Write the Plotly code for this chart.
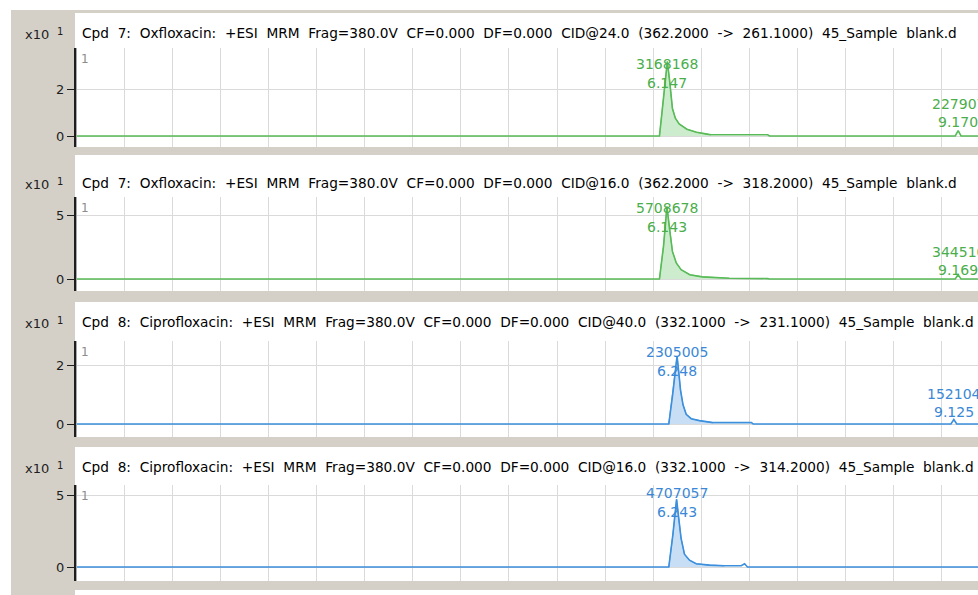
import plotly.graph_objects as go

# ---------------- data ----------------
headers = [
    "Cpd 7: Oxfloxacin: +ESI MRM Frag=380.0V CF=0.000 DF=0.000 CID@24.0 (362.2000 -> 261.1000) 45_Sample blank.d",
    "Cpd 7: Oxfloxacin: +ESI MRM Frag=380.0V CF=0.000 DF=0.000 CID@16.0 (362.2000 -> 318.2000) 45_Sample blank.d",
    "Cpd 8: Ciprofloxacin: +ESI MRM Frag=380.0V CF=0.000 DF=0.000 CID@40.0 (332.1000 -> 231.1000) 45_Sample blank.d",
    "Cpd 8: Ciprofloxacin: +ESI MRM Frag=380.0V CF=0.000 DF=0.000 CID@16.0 (332.1000 -> 314.2000) 45_Sample blank.d",
]

# retention time (min) / intensity (x10^6 counts) for each MRM transition
rt_1 = [0.00, 6.065, 6.09, 6.12, 6.147, 6.17, 6.20, 6.23, 6.27, 6.35, 6.45, 6.56, 6.60, 7.19, 7.21,
        9.14, 9.170, 9.20, 9.40]
int_1 = [0.00, 0.00, 0.95, 2.15, 3.168168, 2.38, 1.17, 0.76, 0.51, 0.29, 0.16, 0.08, 0.05, 0.05, 0.00,
         0.00, 0.227907, 0.00, 0.00]

rt_2 = [0.00, 6.065, 6.107, 6.143, 6.17, 6.20, 6.24, 6.29, 6.38, 6.51, 6.79, 6.85, 6.93, 6.97, 7.07,
        7.10, 7.19, 7.21, 9.14, 9.169, 9.20, 9.40]
int_2 = [0.00, 0.00, 2.57, 5.708678, 3.94, 2.17, 1.26, 0.74, 0.34, 0.17, 0.06, 0.06, 0.08, 0.04, 0.06,
         0.03, 0.03, 0.00, 0.00, 0.344510, 0.00, 0.00]

rt_3 = [0.00, 6.162, 6.204, 6.248, 6.263, 6.284, 6.31, 6.343, 6.395, 6.48, 6.62, 7.02, 7.04,
        9.095, 9.125, 9.155, 9.40]
int_3 = [0.00, 0.00, 1.04, 2.305005, 1.84, 1.15, 0.65, 0.33, 0.18, 0.115, 0.046, 0.046, 0.00,
         0.00, 0.152104, 0.00, 0.00]

rt_4 = [0.00, 6.162, 6.204, 6.243, 6.267, 6.29, 6.325, 6.377, 6.447, 6.585, 6.74, 6.915, 6.95, 6.98, 9.40]
int_4 = [0.00, 0.00, 2.21, 4.707057, 3.29, 1.98, 0.89, 0.47, 0.22, 0.13, 0.085, 0.085, 0.22, 0.00, 0.00]

# integrated peak windows (min)
fill_start = [6.065, 6.065, 6.162, 6.162]
fill_end = [6.60, 6.79, 6.62, 6.74]

# labelled peaks: (height label, retention time label)
main_peaks = [("3168168", 6.147), ("5708678", 6.143), ("2305005", 6.248), ("4707057", 6.243)]
minor_peaks = [("227907", 9.170), ("344510", 9.169), ("152104", 9.125), None]

y_ticks = [[0, 2], [0, 5], [0, 2], [0, 5]]

# ---------------- styling ----------------
W, H = 978, 595
FONT = "DejaVu Sans"
GREEN_LINE, GREEN_FILL, GREEN_TEXT = "#58bb58", "#cdeccd", "#4aae4a"
BLUE_LINE, BLUE_FILL, BLUE_TEXT = "#3b8fdc", "#c8def4", "#3a88d6"
GRID = "#dadada"
PANEL_GREY = "#d4d0c8"

series = [(rt_1, int_1), (rt_2, int_2), (rt_3, int_3), (rt_4, int_4)]
colours = [(GREEN_LINE, GREEN_FILL, GREEN_TEXT)] * 2 + [(BLUE_LINE, BLUE_FILL, BLUE_TEXT)] * 2

# pixel layout of each panel: white box, plot area, and the pixel rows used for labels
panel_box = [(13, 147), (155, 291), (302, 437), (447, 581)]
plot_area = [(48, 147), (197, 291), (341, 437), (485, 581)]
zero_px = [136, 279, 424, 567]
px_per_unit = [23.5, 12.7, 29.5, 14.4]
header_px = [33, 183, 322, 467]
main_label_px = [(64, 83), (208, 227), (352, 371), (493, 512)]
minor_label_px = [(104, 122), (252, 270), (394, 412), None]

X_LEFT = 76
X_RANGE = [0, (W - X_LEFT) / 96.2]


def fx(p):
    return p / W


def fy(p):
    return 1 - p / H


def wide(s):
    # title bar uses generous word spacing
    return s.replace(" ", " \u00a0")


fig = go.Figure()
layout = dict(
    width=W, height=H, margin=dict(l=0, r=0, t=0, b=0),
    paper_bgcolor="white", plot_bgcolor="white", showlegend=False,
    font=dict(family=FONT, size=13, color="#111"),
)
shapes = [
    dict(type="rect", xref="paper", yref="paper", x0=fx(11), x1=1, y0=0, y1=fy(10),
         fillcolor=PANEL_GREY, line=dict(width=0), layer="below"),
    dict(type="rect", xref="paper", yref="paper", x0=fx(X_LEFT - 1), x1=1, y0=0, y1=fy(590),
         fillcolor="white", line=dict(width=0), layer="below"),
]
annotations = []

for i in range(4):
    n = "" if i == 0 else str(i + 1)
    xa, ya = "x" + n, "y" + n
    rt, inten = series[i]
    line_c, fill_c, text_c = colours[i]

    # integrated region shaded, then the full chromatogram on top
    fx_rt = [t for t in rt if fill_start[i] <= t <= fill_end[i]]
    fx_in = [v for t, v in zip(rt, inten) if fill_start[i] <= t <= fill_end[i]]
    fig.add_trace(go.Scatter(x=fx_rt, y=fx_in, mode="lines", fill="tozeroy", fillcolor=fill_c,
                             line=dict(width=0.8, color=line_c), xaxis=xa, yaxis=ya, hoverinfo="skip"))
    fig.add_trace(go.Scatter(x=rt, y=inten, mode="lines", line=dict(color=line_c, width=1.6),
                             xaxis=xa, yaxis=ya, hoverinfo="skip"))

    top, bottom = plot_area[i]
    z, k = zero_px[i], px_per_unit[i]
    y_range = [-(bottom - z) / k, (z - top) / k]

    layout["xaxis" + n] = dict(
        domain=[fx(X_LEFT), 1], range=X_RANGE, anchor=ya, showticklabels=False,
        showgrid=True, gridcolor=GRID, gridwidth=1, tick0=0, dtick=0.5,
        zeroline=False, showline=False, ticks="", fixedrange=True,
    )
    layout["yaxis" + n] = dict(
        domain=[fy(bottom), fy(top)], range=y_range, anchor=xa,
        tickvals=y_ticks[i], ticktext=[str(v) for v in y_ticks[i]],
        showgrid=True, gridcolor=GRID, zeroline=False,
        showline=True, linecolor="#1e1e1e", linewidth=2,
        ticks="outside", ticklen=7, tickcolor="#1e1e1e", tickwidth=1,
        tickfont=dict(size=13, color="#1e1e1e", family=FONT), fixedrange=True,
    )

    b0, b1 = panel_box[i]
    shapes.append(dict(type="rect", xref="paper", yref="paper", x0=fx(X_LEFT - 1), x1=1,
                       y0=fy(b1), y1=fy(b0), fillcolor="white", line=dict(width=0), layer="below"))
    shapes.append(dict(type="line", xref="paper", yref="paper", x0=fx(X_LEFT + 0.5), x1=fx(X_LEFT + 0.5),
                       y0=fy(bottom), y1=fy(top), line=dict(color="#a8a8a8", width=1), layer="above"))

    annotations.append(dict(x=fx(80), y=fy(header_px[i]), xref="paper", yref="paper",
                            text=wide(headers[i]), showarrow=False, xanchor="left", yanchor="middle",
                            font=dict(size=13.7, color="#000", family=FONT)))
    # exponent marker "x10 1" for the intensity scale
    annotations.append(dict(x=fx(51), y=fy(header_px[i] + 1), xref="paper", yref="paper",
                            text="x10", showarrow=False, xanchor="right", yanchor="middle",
                            font=dict(size=13, color="#1e1e1e", family=FONT)))
    annotations.append(dict(x=fx(55), y=fy(header_px[i] - 2), xref="paper", yref="paper",
                            text="1", showarrow=False, xanchor="left", yanchor="middle",
                            font=dict(size=10, color="#1e1e1e", family=FONT)))
    annotations.append(dict(x=fx(79), y=fy(top + 11), xref="paper", yref="paper",
                            text="1", showarrow=False, xanchor="left", yanchor="middle",
                            font=dict(size=12, color="#8c8c8c", family=FONT)))

    lab, t = main_peaks[i]
    for txt, p in zip((lab, f"{t:.3f}"), main_label_px[i]):
        annotations.append(dict(x=t, xref=xa, y=fy(p), yref="paper", text=txt, showarrow=False,
                                xanchor="center", yanchor="middle",
                                font=dict(size=14, color=text_c, family=FONT)))
    if minor_peaks[i] is not None:
        lab, t = minor_peaks[i]
        for txt, p in zip((lab, f"{t:.3f}"), minor_label_px[i]):
            annotations.append(dict(x=t, xref=xa, y=fy(p), yref="paper", text=txt, showarrow=False,
                                    xanchor="center", yanchor="middle",
                                    font=dict(size=14, color=text_c, family=FONT)))

layout["shapes"] = shapes
layout["annotations"] = annotations
fig.update_layout(**layout)
fig.write_html("out.html", config={"displayModeBar": False})
